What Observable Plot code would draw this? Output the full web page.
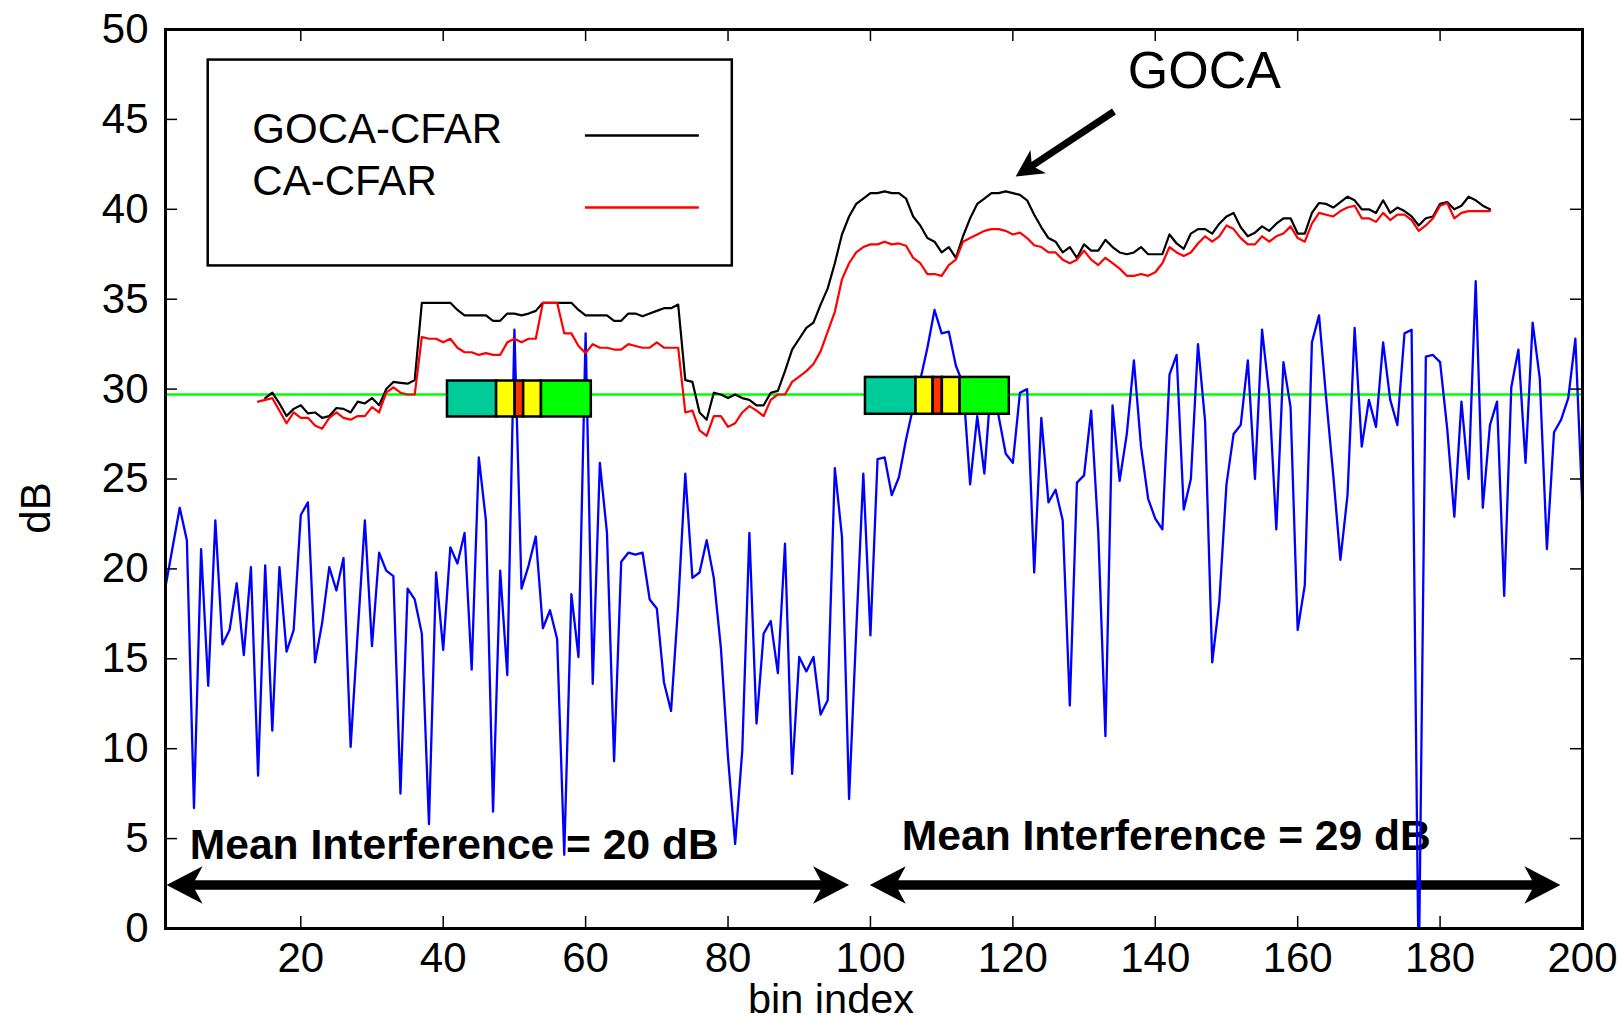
<!DOCTYPE html>
<html>
<head>
<meta charset="utf-8">
<script src="https://cdn.jsdelivr.net/npm/d3@7"></script>
<script src="https://cdn.jsdelivr.net/npm/@observablehq/plot@0.6"></script>
<style>
  html, body { margin: 0; padding: 0; background: #ffffff; }
  #chart svg { display: block; }
</style>
</head>
<body>
<div id="chart"></div>
<script>
// ---------------- data ----------------
const binStart = 1;
const signal = [
  19.0,21.2,23.4,21.6,6.7,21.1,13.5,22.7,15.8,16.6,
  19.2,15.2,20.1,8.5,20.2,11.0,20.1,15.4,16.6,23.0,
  23.7,14.8,17.0,20.1,18.8,20.6,10.1,16.5,22.7,15.7,
  20.9,19.9,19.6,7.5,18.9,18.3,16.4,5.8,19.8,15.5,
  21.2,20.3,22.0,14.4,26.2,22.7,6.5,19.9,14.1,33.3,
  18.9,20.2,21.8,16.7,17.7,16.1,4.1,18.6,15.1,33.1,
  13.6,25.9,22.0,9.3,20.4,20.9,20.8,20.9,18.3,17.8,
  13.7,12.1,18.0,25.3,19.5,19.8,21.6,19.5,15.6,9.5,
  4.7,9.9,22.0,11.4,16.4,17.1,14.2,21.4,8.6,15.1,
  14.3,15.1,11.9,12.7,25.6,21.8,7.2,16.5,25.3,16.3,
  26.1,26.2,24.1,25.1,27.2,29.0,30.5,32.3,34.4,33.1,
  33.2,31.3,30.3,24.7,28.5,25.3,30.6,28.5,26.4,25.9,
  29.8,30.0,19.8,28.4,23.7,24.4,22.7,12.4,24.8,25.2,
  28.8,22.0,10.7,29.1,24.9,27.5,31.6,26.8,23.9,22.8,
  22.2,30.8,31.9,23.3,25.0,32.5,28.2,14.8,18.2,24.7,
  27.5,28.0,31.6,25.0,33.3,29.7,22.2,31.5,29.0,16.6,
  19.1,32.6,34.1,29.5,25.2,20.5,24.1,33.4,26.8,29.4,
  27.9,32.6,29.4,28.0,33.1,33.3,-3,31.8,31.9,31.5,
  27.8,22.9,29.3,25.0,36.0,23.4,28.0,29.3,18.5,30.1,
  32.2,25.9,33.7,30.6,21.1,27.6,28.3,29.5,32.8,23.3
];

const gocaStart = 15;
const goca = [
  29.5,29.8,29.2,28.5,28.9,29.1,
  28.65,28.7,28.4,28.5,28.95,28.9,28.7,29.3,29.2,29.5,
  29.1,30.0,30.4,30.35,30.3,30.5,34.8,34.8,34.8,34.8,
  34.8,34.4,34.1,34.1,34.1,34.1,33.8,33.8,34.2,34.2,
  34.1,34.2,34.35,34.8,34.8,34.8,34.8,34.8,34.4,34.1,
  34.1,34.1,34.1,33.8,33.8,34.2,34.2,34.05,34.2,34.35,
  34.5,34.5,34.7,30.5,30.4,28.7,28.3,29.8,29.7,29.5,
  29.7,29.5,29.4,29.1,29.1,29.8,29.9,31.0,32.2,32.8,
  33.4,33.7,34.7,35.6,37.0,38.6,39.6,40.3,40.6,40.9,
  40.9,41.0,40.9,40.9,40.6,39.6,39.1,38.4,38.2,37.6,
  37.9,37.3,38.5,39.5,40.3,40.6,40.9,40.9,41.0,40.9,
  40.8,40.5,39.7,39.0,38.4,38.2,37.6,37.9,37.3,38.05,
  37.7,37.7,38.3,37.9,37.6,37.5,37.6,37.9,37.5,37.5,
  37.5,38.6,38.1,37.8,38.65,38.9,38.9,38.65,39.2,39.6,
  39.8,39.0,38.5,38.7,39.05,38.8,39.2,39.5,39.5,38.65,
  38.65,39.8,40.35,40.3,40.1,40.4,40.7,40.5,40.0,40.0,
  39.8,40.5,39.8,40.1,39.9,39.6,39.1,39.5,39.6,40.3,
  40.4,40.0,40.2,40.7,40.5,40.2,40.0
];

const caStart = 14;
const ca = [
  29.3,29.4,29.5,28.8,28.1,28.7,28.4,
  28.4,27.97,27.8,28.4,28.7,28.4,28.3,28.5,28.5,29.0,
  28.7,29.8,30.1,29.8,29.7,29.7,32.9,32.8,32.8,32.6,
  32.8,32.3,32.05,32.05,31.9,32.0,31.9,31.9,32.6,32.8,
  32.6,32.8,32.8,34.8,34.8,34.8,33.1,33.1,32.4,32.0,
  32.5,32.3,32.3,32.2,32.2,32.5,32.4,32.3,32.3,32.6,
  32.3,32.3,32.3,28.7,28.8,27.7,27.4,28.5,28.5,27.9,
  28.1,28.7,29.05,28.8,28.5,29.4,29.7,29.7,30.4,30.7,
  31.0,31.4,32.1,33.2,34.3,36.1,37.0,37.6,37.9,38.05,
  38.05,38.2,38.05,38.1,37.97,37.3,37.0,36.4,36.4,36.3,
  36.9,37.2,38.2,38.4,38.6,38.8,38.9,38.9,38.8,38.6,
  38.7,38.4,38.0,37.9,37.6,37.6,37.2,37.0,37.2,37.7,
  37.2,36.9,37.3,37.0,36.7,36.3,36.3,36.4,36.3,36.5,
  37.0,37.9,37.6,37.4,37.6,38.1,38.5,38.2,38.5,39.1,
  38.9,38.4,38.05,38.05,38.5,38.2,38.5,38.65,39.05,38.4,
  38.2,39.2,39.8,39.7,39.6,39.9,40.1,40.2,39.5,39.5,
  39.3,39.8,39.4,39.7,39.7,39.4,38.8,39.1,39.5,40.2,
  40.35,39.5,39.8,39.9,39.9,39.9,39.9
];

const threshold = 29.7;

const xTicks = [20, 40, 60, 80, 100, 120, 140, 160, 180, 200];
const yTicks = [0, 5, 10, 15, 20, 25, 30, 35, 40, 45, 50];
const xDomain = [1, 200];
const yDomain = [0, 50];

// CFAR window cell edges (bin units) and vertical extent (dB)
const windowLeftEdges = [40.6, 47.5, 50.1, 51.3, 53.8, 60.8];
const windowLeftSpan = [28.45, 30.45];
const windowRightEdges = [99.3, 106.4, 108.8, 110.1, 112.6, 119.5];
const windowRightSpan = [28.6, 30.65];

// legend
const legendLabels = ["GOCA-CFAR", "CA-CFAR"];
const legendLabelX = [13.2, 13.2];
const legendLabelY = [43.69, 40.82];
const legendBox = [7.0, 80.6, 36.85, 48.3];       // x1, x2, y1, y2
const legendSwatchX = [59.9, 75.9];
const legendSwatchY = [44.1, 40.1];

// annotations
const meanLabels = ["Mean Interference = 20 dB", "Mean Interference = 29 dB"];
const meanLabelX = [4.4, 104.4];
const meanLabelY = [3.85, 4.37];
const spanArrowX = [[1.15, 97.0], [99.9, 196.9]];
const spanArrowY = 2.42;
const gocaLabel = "GOCA";
const gocaLabelPos = [146.9, 46.75];
const gocaArrow = [134.2, 45.44, 120.4, 41.82];  // from x, y  -> tip x, y

// ---------------- styles ----------------
const W = 1618, H = 1022;
const mL = 165, mR = 36, mT = 29, mB = 94;
const cellColors = ["#00cc99", "#ffff00", "#ff3300", "#ffff00", "#00ff00"];
const font = "'Liberation Sans', Arial, Helvetica, sans-serif";

// pixel per data unit (used only to pull arrow shafts back behind their heads)
const kx = (W - mL - mR) / (xDomain[1] - xDomain[0]);
const ky = (H - mT - mB) / (yDomain[1] - yDomain[0]);
const innerW = W - mL - mR, innerH = H - mT - mB;

// ---------------- derived tables ----------------
const sigData = signal.map((v, i) => ({bin: binStart + i, dB: v}));
const gocaData = goca.map((v, i) => ({bin: gocaStart + i, dB: v}));
const caData = ca.map((v, i) => ({bin: caStart + i, dB: v}));

function cells(edges, span) {
  return edges.slice(0, -1).map((e, i) => ({x1: e, x2: edges[i + 1], y1: span[0], y2: span[1], fill: cellColors[i]}));
}
const windowCells = [...cells(windowLeftEdges, windowLeftSpan), ...cells(windowRightEdges, windowRightSpan)];

const legendText = legendLabels.map((t, i) => ({t, x: legendLabelX[i], y: legendLabelY[i]}));
const legendSwatches = [
  {x1: legendSwatchX[0], x2: legendSwatchX[1], y: legendSwatchY[0], stroke: "#000000"},
  {x1: legendSwatchX[0], x2: legendSwatchX[1], y: legendSwatchY[1], stroke: "#ff0000"}
];
const meanText = meanLabels.map((t, i) => ({t, x: meanLabelX[i], y: meanLabelY[i]}));

// arrowhead symbol: tip at origin, pointing along +x
const arrowHead = {
  draw(context, size) {
    const L = Math.sqrt(size / Math.PI);
    const w = L * 0.52, n = L * 0.72;
    context.moveTo(0, 0);
    context.lineTo(-L, -w);
    context.lineTo(-n, 0);
    context.lineTo(-L, w);
    context.closePath();
  }
};

const pull = 12; // px the shaft stops short of a tip
const spanShafts = spanArrowX.map(([a, b]) => ({x1: a + pull / kx, x2: b - pull / kx, y: spanArrowY}));
const spanHeads = spanArrowX.flatMap(([a, b]) => [
  {x: a, y: spanArrowY, angle: 180},
  {x: b, y: spanArrowY, angle: 0}
]);

const [gx1, gy1, gx2, gy2] = gocaArrow;
const gdx = (gx2 - gx1) * kx, gdy = -(gy2 - gy1) * ky;
const glen = Math.hypot(gdx, gdy);
const gAngle = Math.atan2(gdy, gdx) * 180 / Math.PI;
const gf = 14 / glen;
const gocaShaft = [{x1: gx1, y1: gy1, x2: gx2 - (gx2 - gx1) * gf, y2: gy2 - (gy2 - gy1) * gf}];
const gocaHead = [{x: gx2, y: gy2, angle: gAngle}];

// ---------------- chart ----------------
const chart = Plot.plot({
  width: W,
  height: H,
  marginLeft: mL,
  marginRight: mR,
  marginTop: mT,
  marginBottom: mB,
  style: {fontFamily: font, fontSize: "42px", color: "#000", background: "#fff", overflow: "visible"},
  x: {domain: xDomain},
  y: {domain: yDomain},
  color: {type: "identity"},
  marks: [
    // annotation arrows and labels (under the data)
    Plot.link(spanShafts, {x1: "x1", x2: "x2", y1: "y", y2: "y", stroke: "#000", strokeWidth: 9.5}),
    Plot.dot(spanHeads, {x: "x", y: "y", symbol: arrowHead, r: 36, rotate: "angle", fill: "#000", stroke: "none"}),
    Plot.text(meanText, {x: "x", y: "y", text: "t", fontSize: 42.6, fontWeight: "bold", textAnchor: "start", lineAnchor: "bottom", fill: "#000"}),

    // threshold
    Plot.ruleY([threshold], {stroke: "#00ff00", strokeWidth: 2.5}),

    // signal and CFAR thresholds
    Plot.line(sigData, {x: "bin", y: "dB", stroke: "#0000ff", strokeWidth: 2.3, clip: true}),
    Plot.line(gocaData, {x: "bin", y: "dB", stroke: "#000000", strokeWidth: 2.2}),
    Plot.line(caData, {x: "bin", y: "dB", stroke: "#ff0000", strokeWidth: 2.2}),

    // CFAR windows
    Plot.rect(windowCells, {x1: "x1", x2: "x2", y1: "y1", y2: "y2", fill: "fill", stroke: "#000", strokeWidth: 2.5}),

    // legend
    Plot.rect([legendBox], {x1: d => d[0], x2: d => d[1], y1: d => d[2], y2: d => d[3], fill: "#fff", stroke: "#000", strokeWidth: 2.5}),
    Plot.text(legendText, {x: "x", y: "y", text: "t", fontSize: 42, textAnchor: "start", lineAnchor: "bottom", fill: "#000"}),
    Plot.link(legendSwatches, {x1: "x1", x2: "x2", y1: "y", y2: "y", stroke: "stroke", strokeWidth: 2.5}),

    // GOCA annotation
    Plot.text([gocaLabel], {x: gocaLabelPos[0], y: gocaLabelPos[1], text: d => d, fontSize: 52, textAnchor: "middle", lineAnchor: "bottom", fill: "#000"}),
    Plot.link(gocaShaft, {x1: "x1", y1: "y1", x2: "x2", y2: "y2", stroke: "#000", strokeWidth: 7}),
    Plot.dot(gocaHead, {x: "x", y: "y", symbol: arrowHead, r: 27, rotate: "angle", fill: "#000", stroke: "none"}),

    // inward tick marks on all four sides
    Plot.tickY(yTicks, {y: d => d, insetRight: innerW - 12, stroke: "#000", strokeWidth: 1.5}),
    Plot.tickY(yTicks, {y: d => d, insetLeft: innerW - 12, stroke: "#000", strokeWidth: 1.5}),
    Plot.tickX(xTicks, {x: d => d, insetTop: innerH - 12, stroke: "#000", strokeWidth: 1.5}),
    Plot.tickX(xTicks, {x: d => d, insetBottom: innerH - 12, stroke: "#000", strokeWidth: 1.5}),

    // axes labels
    Plot.axisX(xTicks, {anchor: "bottom", tickSize: 0, tickPadding: 14, fontSize: 42, label: null}),
    Plot.axisY(yTicks, {anchor: "left", tickSize: 0, tickPadding: 17, fontSize: 42, label: null}),
    Plot.text(["bin index"], {frameAnchor: "bottom", dx: -43, dy: 84, text: d => d, fontSize: 41.5, textAnchor: "middle", lineAnchor: "bottom", fill: "#000"}),
    Plot.text(["dB"], {frameAnchor: "left", dx: -129, dy: 29, rotate: -90, text: d => d, fontSize: 42, textAnchor: "middle", lineAnchor: "middle", fill: "#000"}),

    Plot.frame({stroke: "#000", strokeWidth: 3})
  ]
});

document.getElementById("chart").appendChild(chart);
</script>
</body>
</html>
